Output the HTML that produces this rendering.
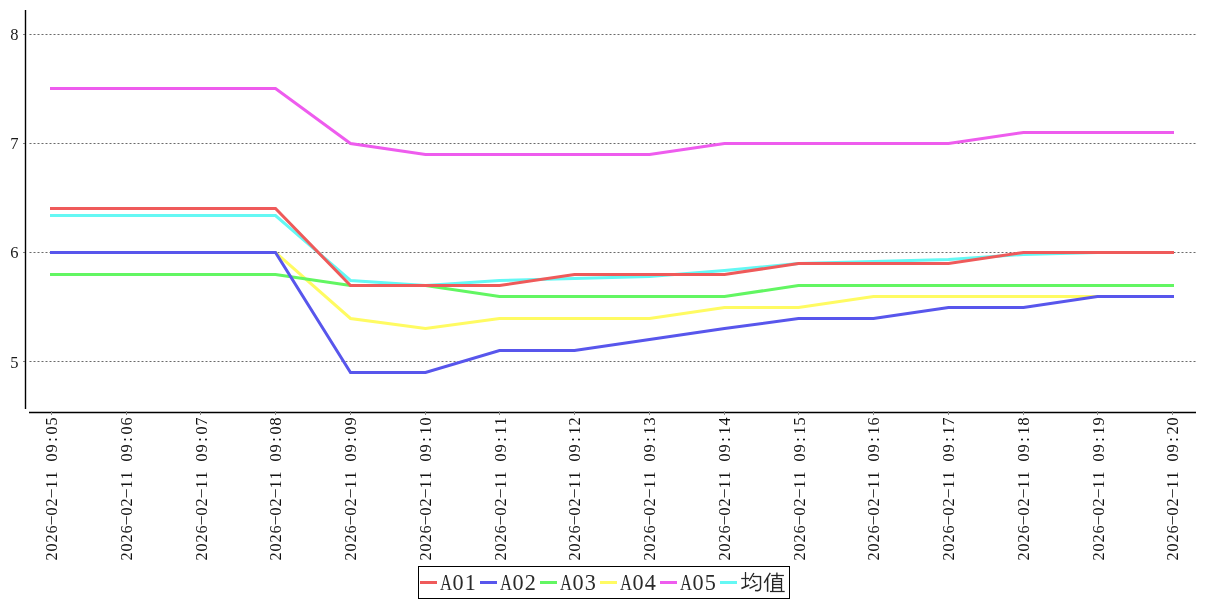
<!DOCTYPE html>
<html><head><meta charset="utf-8"><style>
html,body{margin:0;padding:0;background:#fff;width:1207px;height:600px;overflow:hidden}
svg{display:block}
svg{will-change:transform}
.yl{font-family:"Liberation Serif",serif;font-size:16.5px;fill:#1a1a1a}
.xl{font-family:"Liberation Serif",serif;font-size:16.2px;fill:#111}
.lg{font-family:"Liberation Serif",serif;font-size:22.2px;fill:#2a2a2a}
</style></head><body>
<svg width="1207" height="600" viewBox="0 0 1207 600">
<line x1="29.5" y1="34.5" x2="1195.5" y2="34.5" stroke="#6a6a6a" stroke-width="1" stroke-dasharray="2,2"/>
<line x1="23" y1="34.5" x2="25" y2="34.5" stroke="#888" stroke-width="1"/>
<text x="18.4" y="40.4" text-anchor="end" class="yl">8</text>
<line x1="29.5" y1="143.5" x2="1195.5" y2="143.5" stroke="#6a6a6a" stroke-width="1" stroke-dasharray="2,2"/>
<line x1="23" y1="143.5" x2="25" y2="143.5" stroke="#888" stroke-width="1"/>
<text x="18.4" y="149.4" text-anchor="end" class="yl">7</text>
<line x1="29.5" y1="252.5" x2="1195.5" y2="252.5" stroke="#6a6a6a" stroke-width="1" stroke-dasharray="2,2"/>
<line x1="23" y1="252.5" x2="25" y2="252.5" stroke="#888" stroke-width="1"/>
<text x="18.4" y="258.4" text-anchor="end" class="yl">6</text>
<line x1="29.5" y1="361.5" x2="1195.5" y2="361.5" stroke="#6a6a6a" stroke-width="1" stroke-dasharray="2,2"/>
<line x1="23" y1="361.5" x2="25" y2="361.5" stroke="#888" stroke-width="1"/>
<text x="18.4" y="368.4" text-anchor="end" class="yl">5</text>
<line x1="25.5" y1="10" x2="25.5" y2="409" stroke="#000" stroke-width="1.4"/>
<line x1="29" y1="412.5" x2="1196" y2="412.5" stroke="#000" stroke-width="1.4"/>
<line x1="51.50" y1="411" x2="51.50" y2="415" stroke="#888" stroke-width="1"/>
<text transform="translate(56.50,417.0) rotate(-90)" x="-143.55 -134.55 -125.55 -116.55 -107.55 -98.55 -89.55 -80.55 -71.55 -62.55 -51.52 -44.55 -35.55 -24.75 -17.55 -8.55" y="0 0 0 0 -1.9 0 0 -1.9 0 0 0 0 0 0 0 0" class="xl">2026–02–11 09:05</text>
<line x1="126.50" y1="411" x2="126.50" y2="415" stroke="#888" stroke-width="1"/>
<text transform="translate(131.50,417.0) rotate(-90)" x="-143.55 -134.55 -125.55 -116.55 -107.55 -98.55 -89.55 -80.55 -71.55 -62.55 -51.52 -44.55 -35.55 -24.75 -17.55 -8.55" y="0 0 0 0 -1.9 0 0 -1.9 0 0 0 0 0 0 0 0" class="xl">2026–02–11 09:06</text>
<line x1="200.50" y1="411" x2="200.50" y2="415" stroke="#888" stroke-width="1"/>
<text transform="translate(206.50,417.0) rotate(-90)" x="-143.55 -134.55 -125.55 -116.55 -107.55 -98.55 -89.55 -80.55 -71.55 -62.55 -51.52 -44.55 -35.55 -24.75 -17.55 -8.55" y="0 0 0 0 -1.9 0 0 -1.9 0 0 0 0 0 0 0 0" class="xl">2026–02–11 09:07</text>
<line x1="275.50" y1="411" x2="275.50" y2="415" stroke="#888" stroke-width="1"/>
<text transform="translate(280.50,417.0) rotate(-90)" x="-143.55 -134.55 -125.55 -116.55 -107.55 -98.55 -89.55 -80.55 -71.55 -62.55 -51.52 -44.55 -35.55 -24.75 -17.55 -8.55" y="0 0 0 0 -1.9 0 0 -1.9 0 0 0 0 0 0 0 0" class="xl">2026–02–11 09:08</text>
<line x1="350.50" y1="411" x2="350.50" y2="415" stroke="#888" stroke-width="1"/>
<text transform="translate(355.50,417.0) rotate(-90)" x="-143.55 -134.55 -125.55 -116.55 -107.55 -98.55 -89.55 -80.55 -71.55 -62.55 -51.52 -44.55 -35.55 -24.75 -17.55 -8.55" y="0 0 0 0 -1.9 0 0 -1.9 0 0 0 0 0 0 0 0" class="xl">2026–02–11 09:09</text>
<line x1="425.50" y1="411" x2="425.50" y2="415" stroke="#888" stroke-width="1"/>
<text transform="translate(430.50,417.0) rotate(-90)" x="-143.55 -134.55 -125.55 -116.55 -107.55 -98.55 -89.55 -80.55 -71.55 -62.55 -51.52 -44.55 -35.55 -24.75 -17.55 -8.55" y="0 0 0 0 -1.9 0 0 -1.9 0 0 0 0 0 0 0 0" class="xl">2026–02–11 09:10</text>
<line x1="499.50" y1="411" x2="499.50" y2="415" stroke="#888" stroke-width="1"/>
<text transform="translate(505.50,417.0) rotate(-90)" x="-143.55 -134.55 -125.55 -116.55 -107.55 -98.55 -89.55 -80.55 -71.55 -62.55 -51.52 -44.55 -35.55 -24.75 -17.55 -8.55" y="0 0 0 0 -1.9 0 0 -1.9 0 0 0 0 0 0 0 0" class="xl">2026–02–11 09:11</text>
<line x1="574.50" y1="411" x2="574.50" y2="415" stroke="#888" stroke-width="1"/>
<text transform="translate(579.50,417.0) rotate(-90)" x="-143.55 -134.55 -125.55 -116.55 -107.55 -98.55 -89.55 -80.55 -71.55 -62.55 -51.52 -44.55 -35.55 -24.75 -17.55 -8.55" y="0 0 0 0 -1.9 0 0 -1.9 0 0 0 0 0 0 0 0" class="xl">2026–02–11 09:12</text>
<line x1="649.50" y1="411" x2="649.50" y2="415" stroke="#888" stroke-width="1"/>
<text transform="translate(654.50,417.0) rotate(-90)" x="-143.55 -134.55 -125.55 -116.55 -107.55 -98.55 -89.55 -80.55 -71.55 -62.55 -51.52 -44.55 -35.55 -24.75 -17.55 -8.55" y="0 0 0 0 -1.9 0 0 -1.9 0 0 0 0 0 0 0 0" class="xl">2026–02–11 09:13</text>
<line x1="724.50" y1="411" x2="724.50" y2="415" stroke="#888" stroke-width="1"/>
<text transform="translate(729.50,417.0) rotate(-90)" x="-143.55 -134.55 -125.55 -116.55 -107.55 -98.55 -89.55 -80.55 -71.55 -62.55 -51.52 -44.55 -35.55 -24.75 -17.55 -8.55" y="0 0 0 0 -1.9 0 0 -1.9 0 0 0 0 0 0 0 0" class="xl">2026–02–11 09:14</text>
<line x1="798.50" y1="411" x2="798.50" y2="415" stroke="#888" stroke-width="1"/>
<text transform="translate(804.50,417.0) rotate(-90)" x="-143.55 -134.55 -125.55 -116.55 -107.55 -98.55 -89.55 -80.55 -71.55 -62.55 -51.52 -44.55 -35.55 -24.75 -17.55 -8.55" y="0 0 0 0 -1.9 0 0 -1.9 0 0 0 0 0 0 0 0" class="xl">2026–02–11 09:15</text>
<line x1="873.50" y1="411" x2="873.50" y2="415" stroke="#888" stroke-width="1"/>
<text transform="translate(878.50,417.0) rotate(-90)" x="-143.55 -134.55 -125.55 -116.55 -107.55 -98.55 -89.55 -80.55 -71.55 -62.55 -51.52 -44.55 -35.55 -24.75 -17.55 -8.55" y="0 0 0 0 -1.9 0 0 -1.9 0 0 0 0 0 0 0 0" class="xl">2026–02–11 09:16</text>
<line x1="948.50" y1="411" x2="948.50" y2="415" stroke="#888" stroke-width="1"/>
<text transform="translate(953.50,417.0) rotate(-90)" x="-143.55 -134.55 -125.55 -116.55 -107.55 -98.55 -89.55 -80.55 -71.55 -62.55 -51.52 -44.55 -35.55 -24.75 -17.55 -8.55" y="0 0 0 0 -1.9 0 0 -1.9 0 0 0 0 0 0 0 0" class="xl">2026–02–11 09:17</text>
<line x1="1023.50" y1="411" x2="1023.50" y2="415" stroke="#888" stroke-width="1"/>
<text transform="translate(1028.50,417.0) rotate(-90)" x="-143.55 -134.55 -125.55 -116.55 -107.55 -98.55 -89.55 -80.55 -71.55 -62.55 -51.52 -44.55 -35.55 -24.75 -17.55 -8.55" y="0 0 0 0 -1.9 0 0 -1.9 0 0 0 0 0 0 0 0" class="xl">2026–02–11 09:18</text>
<line x1="1097.50" y1="411" x2="1097.50" y2="415" stroke="#888" stroke-width="1"/>
<text transform="translate(1103.50,417.0) rotate(-90)" x="-143.55 -134.55 -125.55 -116.55 -107.55 -98.55 -89.55 -80.55 -71.55 -62.55 -51.52 -44.55 -35.55 -24.75 -17.55 -8.55" y="0 0 0 0 -1.9 0 0 -1.9 0 0 0 0 0 0 0 0" class="xl">2026–02–11 09:19</text>
<line x1="1172.50" y1="411" x2="1172.50" y2="415" stroke="#888" stroke-width="1"/>
<text transform="translate(1177.50,417.0) rotate(-90)" x="-143.55 -134.55 -125.55 -116.55 -107.55 -98.55 -89.55 -80.55 -71.55 -62.55 -51.52 -44.55 -35.55 -24.75 -17.55 -8.55" y="0 0 0 0 -1.9 0 0 -1.9 0 0 0 0 0 0 0 0" class="xl">2026–02–11 09:20</text>
<polyline points="51.50,215.50 126.50,215.50 200.50,215.50 275.50,215.50 350.50,280.50 425.50,285.50 499.50,280.50 574.50,278.50 649.50,276.50 724.50,270.50 798.50,263.50 873.50,261.50 948.50,259.50 1023.50,254.50 1097.50,252.50 1172.50,252.50" fill="none" stroke="#64f8f4" stroke-width="3" stroke-linecap="square" stroke-linejoin="miter"/>
<polyline points="51.50,88.50 126.50,88.50 200.50,88.50 275.50,88.50 350.50,143.50 425.50,154.50 499.50,154.50 574.50,154.50 649.50,154.50 724.50,143.50 798.50,143.50 873.50,143.50 948.50,143.50 1023.50,132.50 1097.50,132.50 1172.50,132.50" fill="none" stroke="#ee5cee" stroke-width="3" stroke-linecap="square" stroke-linejoin="miter"/>
<polyline points="51.50,252.50 126.50,252.50 200.50,252.50 275.50,252.50 350.50,318.50 425.50,328.50 499.50,318.50 574.50,318.50 649.50,318.50 724.50,307.50 798.50,307.50 873.50,296.50 948.50,296.50 1023.50,296.50 1097.50,296.50 1172.50,296.50" fill="none" stroke="#fffb62" stroke-width="3" stroke-linecap="square" stroke-linejoin="miter"/>
<polyline points="51.50,274.50 126.50,274.50 200.50,274.50 275.50,274.50 350.50,285.50 425.50,285.50 499.50,296.50 574.50,296.50 649.50,296.50 724.50,296.50 798.50,285.50 873.50,285.50 948.50,285.50 1023.50,285.50 1097.50,285.50 1172.50,285.50" fill="none" stroke="#62f662" stroke-width="3" stroke-linecap="square" stroke-linejoin="miter"/>
<polyline points="51.50,252.50 126.50,252.50 200.50,252.50 275.50,252.50 350.50,372.50 425.50,372.50 499.50,350.50 574.50,350.50 649.50,339.50 724.50,328.50 798.50,318.50 873.50,318.50 948.50,307.50 1023.50,307.50 1097.50,296.50 1172.50,296.50" fill="none" stroke="#5856ec" stroke-width="3" stroke-linecap="square" stroke-linejoin="miter"/>
<polyline points="51.50,208.50 126.50,208.50 200.50,208.50 275.50,208.50 350.50,285.50 425.50,285.50 499.50,285.50 574.50,274.50 649.50,274.50 724.50,274.50 798.50,263.50 873.50,263.50 948.50,263.50 1023.50,252.50 1097.50,252.50 1172.50,252.50" fill="none" stroke="#ef5a5a" stroke-width="3" stroke-linecap="square" stroke-linejoin="miter"/>
<rect x="418.5" y="566.5" width="371" height="32" fill="#fff" stroke="#000" stroke-width="1"/>
<line x1="420" y1="582.5" x2="437" y2="582.5" stroke="#ef5a5a" stroke-width="3"/>
<text transform="translate(440,589.5) scale(0.75,1)" x="0" y="0" class="lg">A</text>
<text x="452.5 464.7" y="589.5" class="lg">01</text>
<line x1="480" y1="582.5" x2="497" y2="582.5" stroke="#5856ec" stroke-width="3"/>
<text transform="translate(500,589.5) scale(0.75,1)" x="0" y="0" class="lg">A</text>
<text x="512.5 524.7" y="589.5" class="lg">02</text>
<line x1="540" y1="582.5" x2="557" y2="582.5" stroke="#62f662" stroke-width="3"/>
<text transform="translate(560,589.5) scale(0.75,1)" x="0" y="0" class="lg">A</text>
<text x="572.5 584.7" y="589.5" class="lg">03</text>
<line x1="600" y1="582.5" x2="617" y2="582.5" stroke="#fffb62" stroke-width="3"/>
<text transform="translate(620,589.5) scale(0.75,1)" x="0" y="0" class="lg">A</text>
<text x="632.5 644.7" y="589.5" class="lg">04</text>
<line x1="660" y1="582.5" x2="677" y2="582.5" stroke="#ee5cee" stroke-width="3"/>
<text transform="translate(680,589.5) scale(0.75,1)" x="0" y="0" class="lg">A</text>
<text x="692.5 704.7" y="589.5" class="lg">05</text>
<line x1="720" y1="582.5" x2="737" y2="582.5" stroke="#64f8f4" stroke-width="3"/>

<g stroke="#262626" stroke-width="1.25" fill="none" stroke-linecap="butt">
<path d="M741.2 578.5 H749.2"/>
<path d="M745.5 572 V586.6"/>
<path d="M741.4 588.6 L749.2 585.1" stroke-width="1.6"/>
<path d="M753.9 573 L749.1 580.8" stroke-width="1.4"/>
<path d="M752.8 576.5 H760.5"/>
<path d="M760.5 576 V587.5 Q760.5 590.2 757.5 590.8 L755 590.5" stroke-width="1.4"/>
<path d="M752.6 580.1 L755.3 583.1" stroke-width="1.5"/>
<path d="M749.5 588.4 L757.7 584.3" stroke-width="1.4"/>
<path d="M770.3 572.9 L764.2 582.9" stroke-width="1.4"/>
<path d="M767.6 577.4 V591.8" stroke-width="1.5"/>
<path d="M771.2 575.5 H783.9"/>
<path d="M776.9 572.4 V578.5" stroke-width="1.4"/>
<path d="M772.7 578.5 V591.2" stroke-width="1.4"/>
<path d="M772.7 578.5 H781.5 V591"/>
<path d="M772.7 581.5 H781.5"/>
<path d="M772.7 584.5 H781.5"/>
<path d="M772.7 587.7 H781.5" stroke-width="1.5"/>
<path d="M770 591.5 H784.7"/>
</g>
</svg>
</body></html>
